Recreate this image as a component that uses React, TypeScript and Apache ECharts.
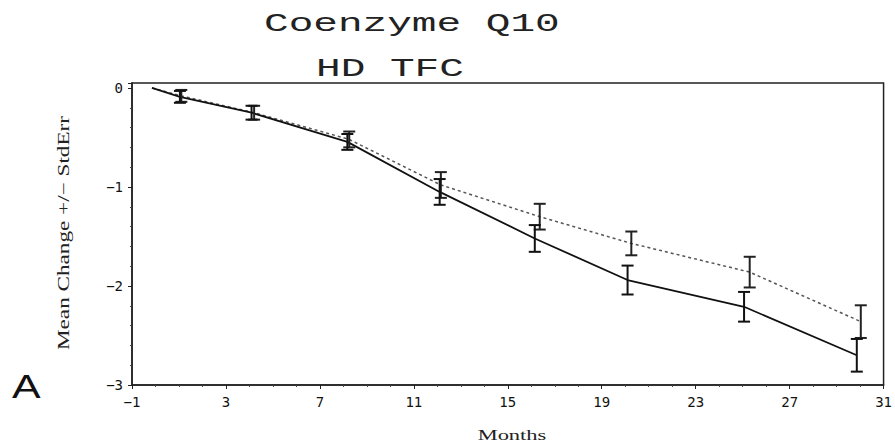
import React, { useEffect, useRef } from "react";
import * as echarts from "echarts";

// Solid line (series 1)
const solidMonths = [-0.15, 1.04, 4.09, 8.17, 12.1, 16.15, 20.1, 25.06, 29.86];
const solidMeans = [0, -0.09, -0.25, -0.545, -1.05, -1.52, -1.94, -2.21, -2.7];
const solidErr = [0, 0.06, 0.07, 0.08, 0.13, 0.135, 0.146, 0.15, 0.165];

// Dotted line (series 2)
const dottedMonths = [-0.15, 1.1, 4.2, 8.25, 12.15, 16.36, 20.26, 25.3, 30.03];
const dottedMeans = [0, -0.08, -0.25, -0.52, -0.98, -1.3, -1.57, -1.86, -2.36];
const dottedErr = [0, 0.06, 0.07, 0.08, 0.13, 0.13, 0.12, 0.155, 0.165];

const xTicks = [-1, 3, 7, 11, 15, 19, 23, 27, 31];
const yTicks = [0, -1, -2, -3];

const titleText = "Coenzyme Q10";
const subtitleText = "HD TFC";
const xName = "Months";
const yName = "Mean Change +/− StdErr";
const panelLabel = "A";

function errData(months: number[], means: number[], errs: number[]) {
  return months
    .map((m, i) => [m, means[i] - errs[i], means[i] + errs[i]])
    .filter((_, i) => errs[i] > 0);
}

function errSeries(data: number[][], color: string) {
  return {
    type: "custom",
    data,
    z: 5,
    renderItem: (params: any, api: any) => {
      const x = api.value(0);
      const lo = api.coord([x, api.value(1)]);
      const hi = api.coord([x, api.value(2)]);
      const w = 6;
      const st = { stroke: color, lineWidth: 2 };
      return {
        type: "group",
        children: [
          { type: "line", shape: { x1: lo[0], y1: lo[1], x2: hi[0], y2: hi[1] }, style: st },
          { type: "line", shape: { x1: lo[0] - w, y1: lo[1], x2: lo[0] + w, y2: lo[1] }, style: st },
          { type: "line", shape: { x1: hi[0] - w, y1: hi[1], x2: hi[0] + w, y2: hi[1] }, style: st },
        ],
      };
    },
  };
}

const minus = (v: number) => (v < 0 ? "−" + Math.abs(v) : String(v));

export default function App() {
  const ref = useRef<HTMLDivElement>(null);
  useEffect(() => {
    const chart = echarts.init(ref.current!, null, { renderer: "svg" });
    chart.setOption({
      animation: false,
      backgroundColor: "#fff",
      graphic: [
        {
          type: "text",
          x: 264,
          y: 24,
          scaleX: 1.58,
          style: {
            text: titleText,
            font: "26px 'Liberation Mono'",
            fill: "#222",
            align: "left",
            verticalAlign: "middle",
          },
        },
        {
          type: "text",
          x: 316,
          y: 69,
          scaleX: 1.58,
          style: {
            text: subtitleText,
            font: "26px 'Liberation Mono'",
            fill: "#222",
            align: "left",
            verticalAlign: "middle",
          },
        },
        {
          type: "text",
          x: 12,
          y: 386,
          scaleX: 1.3,
          style: {
            text: panelLabel,
            font: "33px 'Liberation Sans'",
            fill: "#111",
            align: "left",
            verticalAlign: "middle",
          },
        },
        {
          type: "text",
          x: 512,
          y: 435,
          scaleX: 1.5,
          style: {
            text: xName,
            font: "15px 'Liberation Serif'",
            fill: "#222",
            align: "center",
            verticalAlign: "middle",
          },
        },
        {
          type: "text",
          x: 63,
          y: 233,
          rotation: Math.PI / 2,
          scaleX: 1.45,
          style: {
            text: yName,
            font: "16px 'Liberation Serif'",
            fill: "#222",
            align: "center",
            verticalAlign: "middle",
          },
        },
      ],
      grid: { left: 132, right: 9, top: 83, bottom: 61, show: true, borderColor: "#222", borderWidth: 1.5 },
      xAxis: {
        type: "value",
        min: -1,
        max: 31,
        interval: 4,
        axisLine: { show: true, onZero: false, lineStyle: { color: "#222", width: 1.5 } },
        axisTick: { show: true, length: 4, lineStyle: { color: "#222" } },
        minorTick: { show: true, splitNumber: 4, length: 2, lineStyle: { color: "#444" } },
        splitLine: { show: false },
        axisLabel: {
          formatter: (v: number) => (xTicks.includes(v) ? minus(v) : ""),
          fontFamily: "DejaVu Sans Mono",
          fontSize: 14,
          color: "#111",
          margin: 10,
        },
      },
      yAxis: {
        type: "value",
        min: -3,
        max: 0.05,
        interval: 1,
        axisLine: { show: true, onZero: false, lineStyle: { color: "#222", width: 1.5 } },
        axisTick: { show: true, length: 4, lineStyle: { color: "#222" } },
        minorTick: { show: true, splitNumber: 5, length: 2, lineStyle: { color: "#444" } },
        splitLine: { show: false },
        axisLabel: {
          formatter: (v: number) => (yTicks.includes(v) ? minus(v) : ""),
          fontFamily: "DejaVu Sans Mono",
          fontSize: 14,
          color: "#111",
          margin: 9,
        },
      },
      series: [
        {
          type: "line",
          data: dottedMonths.map((m, i) => [m, dottedMeans[i]]),
          showSymbol: false,
          lineStyle: { color: "#555", width: 1.5, type: [3, 3] },
          z: 3,
        },
        {
          type: "line",
          data: solidMonths.map((m, i) => [m, solidMeans[i]]),
          showSymbol: false,
          lineStyle: { color: "#111", width: 1.8 },
          z: 4,
        },
        errSeries(errData(dottedMonths, dottedMeans, dottedErr), "#222"),
        errSeries(errData(solidMonths, solidMeans, solidErr), "#111"),
      ],
    });
    return () => chart.dispose();
  }, []);
  return <div ref={ref} style={{ width: 895, height: 446, position: "absolute", left: 0, top: 0 }} />;
}
